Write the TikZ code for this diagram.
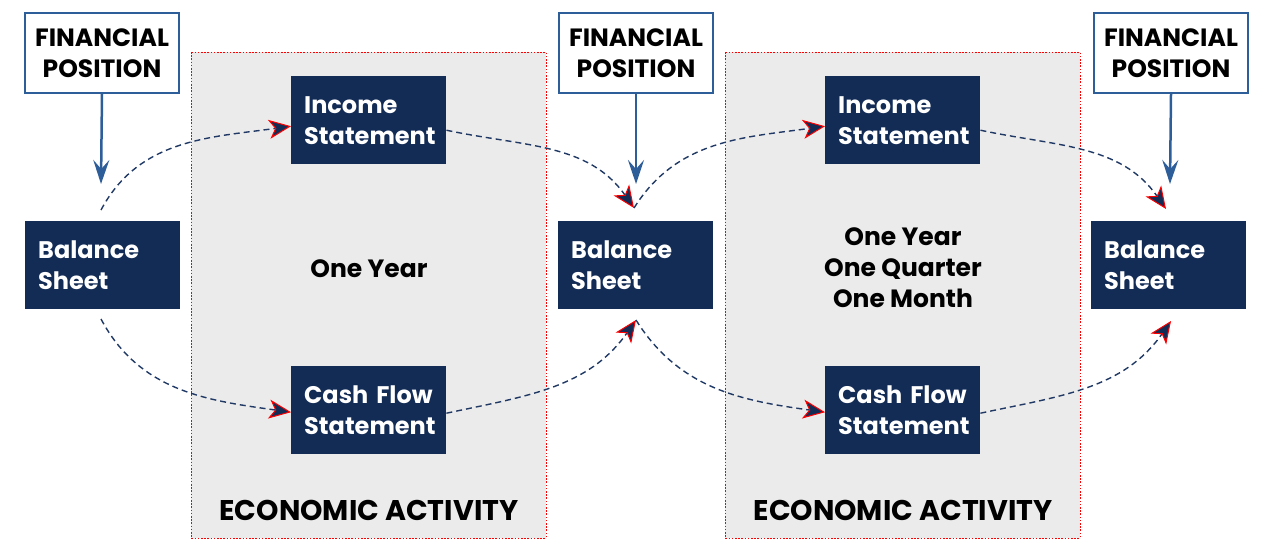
\documentclass[tikz,border=0pt]{standalone}
\usepackage{fontspec}
\setmainfont{Poppins}
\usetikzlibrary{arrows.meta}
\definecolor{navy}{HTML}{132C56}
\definecolor{fpblue}{HTML}{2E5E9A}
\definecolor{dashcol}{HTML}{1F3864}
\definecolor{panel}{HTML}{EBEBEB}
\tikzset{
  fpbox/.style={draw=fpblue, line width=2pt, fill=white, minimum width=154pt, minimum height=80pt, inner sep=0pt, align=center, anchor=north west, font=\bfseries\fontsize{25}{31}\selectfont, text=black},
  stmt/.style={fill=navy, text=white, text width=129pt, inner xsep=13pt, inner ysep=0pt, minimum height=88pt, align=left, anchor=north west, font=\bfseries\fontsize{24}{31}\selectfont},
  panelbox/.style={fill=panel, draw=red, line width=0.8pt, dash pattern=on 1.6pt off 1.6pt},
  fparrow/.style={draw=fpblue, line width=2.5pt, -{Stealth[length=24pt, width=16pt, inset=9pt]}},
  flow/.style={draw=dashcol, line width=1.4pt, dash pattern=on 6pt off 4pt, -{Stealth[length=22pt, width=19pt, inset=6pt, fill=navy, color=red, line width=1pt]}},
  midtext/.style={font=\bfseries\fontsize{25}{31}\selectfont, align=center, text=black},
  econ/.style={font=\bfseries\fontsize{28.5}{32}\selectfont, text=black}
}
\begin{document}
\begin{tikzpicture}[x=1pt, y=-1pt]
\useasboundingbox (0,0) rectangle (1266,552);
% panels
\draw[panelbox] (191,52) rectangle (546,538);
\draw[panelbox] (725,52) rectangle (1080,538);
% financial position boxes
\node[fpbox] (fp1) at (24,12) {FINANCIAL\\POSITION};
\node[fpbox] (fp2) at (558,12) {FINANCIAL\\POSITION};
\node[fpbox] (fp3) at (1093,12) {FINANCIAL\\POSITION};
% balance sheets
\node[stmt] (bs1) at (25,221) {Balance\\Sheet};
\node[stmt] (bs2) at (558,221) {Balance\\Sheet};
\node[stmt] (bs3) at (1091,221) {Balance\\Sheet};
% income statements
\node[stmt] (is1) at (291,76) {Income\\Statement};
\node[stmt] (is2) at (825,76) {Income\\Statement};
% cash flows
\node[stmt] (cf1) at (291,366) {Cash~Flow\\Statement};
\node[stmt] (cf2) at (825,366) {Cash~Flow\\Statement};
% middle texts
\node[midtext] (t1) at (369,269) {One Year};
\node[midtext] (t2) at (903,268) {One Year\\One Quarter\\One Month};
\node[econ] (e1) at (369,510) {ECONOMIC ACTIVITY};
\node[econ] (e2) at (903,510) {ECONOMIC ACTIVITY};
% coordinates
\coordinate (a1) at (101,184);
\coordinate (a2) at (636,184);
\coordinate (a3) at (1170,184);
\coordinate (top1) at (101,210);
\coordinate (bot1) at (101,319);
\coordinate (top2) at (634,208);
\coordinate (bot2) at (636,320);
\coordinate (top3) at (1166,209);
\coordinate (bot3) at (1171,321);
% FP arrows
\draw[fparrow] (fp1.south) -- (a1);
\draw[fparrow] (fp2.south) -- (a2);
\draw[fparrow] (fp3.south) -- (a3);
% flows
\draw[flow] (top1) to[out=62, in=188] ([yshift=-6pt]is1.west);
\draw[flow] ([yshift=-10pt]is1.east) to[out=-12, in=125] (top2);
\draw[flow] (top2) to[out=58, in=188] ([yshift=-6pt]is2.west);
\draw[flow] ([yshift=-10pt]is2.east) to[out=-12, in=125] (top3);
\draw[flow] (bot1) to[out=-62, in=172] ([yshift=-2pt]cf1.west);
\draw[flow] ([yshift=-3pt]cf1.east) to[out=12, in=-125] (bot2);
\draw[flow] (bot2) to[out=-58, in=172] ([yshift=-2pt]cf2.west);
\draw[flow] ([yshift=-3pt]cf2.east) to[out=12, in=-125] (bot3);
\end{tikzpicture}
\end{document}
